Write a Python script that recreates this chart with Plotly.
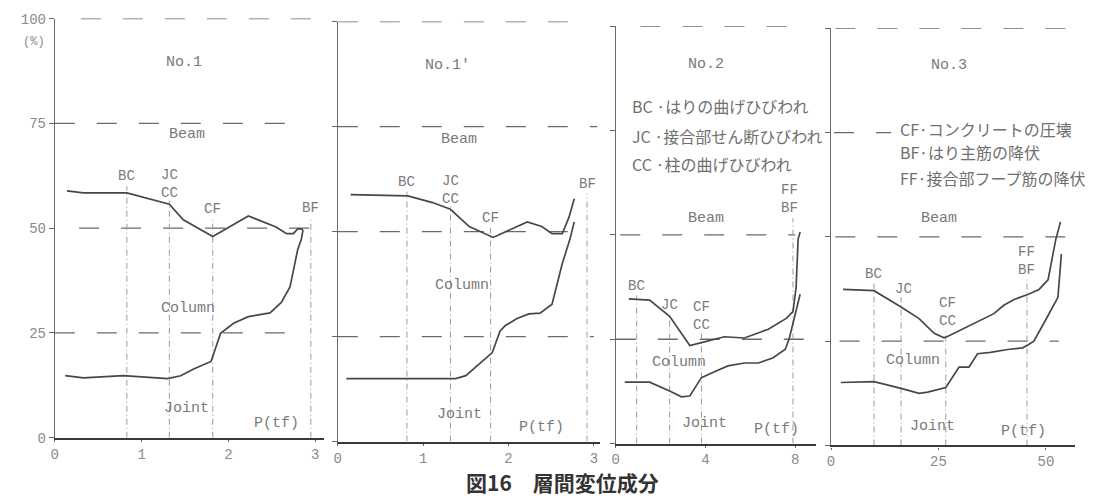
import plotly.graph_objects as go

# ---- data: interstory drift components (%) vs load P (tf) ----
p1_x_upper = [0.14, 0.33, 0.83, 1.32, 1.48, 1.82, 2.23, 2.55, 2.67, 2.75, 2.80, 2.86]
p1_upper = [58.9, 58.4, 58.4, 55.7, 52.0, 48.0, 52.9, 50.3, 48.7, 48.7, 49.9, 49.7]
p1_x_lower = [0.12, 0.33, 0.79, 0.99, 1.30, 1.45, 1.60, 1.80, 1.91, 2.06, 2.23, 2.48, 2.61, 2.71, 2.80, 2.84, 2.86]
p1_lower = [14.8, 14.3, 14.8, 14.5, 14.1, 14.8, 16.4, 18.2, 24.9, 27.3, 28.9, 29.8, 32.3, 36.0, 45.0, 47.3, 49.6]

p2_x_upper = [0.15, 0.82, 1.11, 1.32, 1.54, 1.82, 2.22, 2.39, 2.51, 2.63, 2.71, 2.77]
p2_upper = [58.8, 58.5, 56.9, 55.3, 51.2, 48.6, 52.3, 51.2, 49.5, 49.5, 53.5, 57.8]
p2_x_lower = [0.10, 1.31, 1.38, 1.50, 1.61, 1.81, 1.90, 1.96, 2.10, 2.24, 2.37, 2.51, 2.63, 2.72, 2.77]
p2_lower = [15.0, 15.0, 15.0, 15.7, 17.7, 21.2, 26.3, 27.6, 29.3, 30.4, 30.6, 32.7, 42.4, 48.2, 52.3]

p3_x_upper = [0.58, 1.51, 2.40, 2.93, 3.30, 3.82, 4.84, 5.73, 6.80, 7.60, 7.90, 8.04, 8.13, 8.22]
p3_upper = [34.7, 34.4, 30.5, 26.5, 23.5, 24.2, 25.6, 25.3, 27.4, 30.0, 31.6, 37.4, 49.0, 50.7]
p3_x_lower = [0.40, 1.51, 2.40, 2.93, 3.30, 3.82, 4.40, 5.00, 5.73, 6.35, 7.00, 7.56, 7.73, 7.96, 8.22]
p3_lower = [14.7, 14.7, 12.6, 11.2, 11.4, 15.8, 17.2, 18.6, 19.3, 19.3, 20.5, 22.6, 25.1, 29.8, 35.8]

p4_x_upper = [2.8, 10.0, 16.3, 20.5, 24.0, 26.3, 27.2, 32.6, 37.9, 40.2, 42.6, 45.8, 48.4, 50.5, 52.3, 53.4]
p4_upper = [37.4, 37.1, 33.2, 30.4, 26.9, 25.8, 26.2, 29.0, 31.6, 33.6, 35.0, 36.2, 37.4, 39.7, 49.4, 53.6]
p4_x_lower = [2.3, 10.0, 16.3, 20.5, 22.5, 26.7, 29.8, 32.1, 34.1, 37.1, 41.1, 44.6, 45.8, 47.2, 50.0, 52.8, 53.6]
p4_lower = [15.1, 15.3, 13.7, 12.5, 12.8, 13.9, 18.8, 18.8, 22.0, 22.3, 23.0, 23.4, 24.1, 25.0, 30.2, 35.5, 45.9]

# event loads (vertical marker lines) and the height each marker line reaches
p1_events = [0.83, 1.32, 1.82, 2.95]
p1_event_tops = [60.0, 56.5, 52.0, 52.0]
p2_events = [0.81, 1.32, 1.79, 2.92]
p2_event_tops = [59.5, 56.0, 51.0, 59.0]
p3_events = [0.93, 2.40, 3.82, 7.90]
p3_event_tops = [35.5, 31.0, 26.5, 54.0]
p4_events = [10.0, 16.3, 26.7, 45.6]
p4_event_tops = [39.0, 35.5, 28.0, 40.0]

# event labels: (text, x, y at label centre); stacked names share one label
p1_event_labels = [("BC", 0.83, 62.4), ("JC<br>CC", 1.32, 60.6), ("CF", 1.82, 54.5), ("BF", 2.95, 54.7)]
p2_event_labels = [("BC", 0.81, 61.8), ("JC<br>CC", 1.32, 60.0), ("CF", 1.79, 53.2), ("BF", 2.92, 61.3)]
p3_event_labels = [("BC", 0.93, 37.7), ("JC", 2.40, 33.3), ("CF<br>CC", 3.82, 30.5), ("FF<br>BF", 7.73, 58.7)]
p4_event_labels = [("BC", 10.0, 41.1), ("JC", 16.9, 37.6), ("CF<br>CC", 27.1, 32.0), ("FF<br>BF", 45.5, 44.3)]

# region / title labels: (text, x, y)
p1_labels = [("No.1", 1.49, 89.6), ("Beam", 1.52, 72.3), ("Column", 1.53, 30.9), ("Joint", 1.52, 6.9)]
p2_labels = [("No.1'", 1.28, 89.6), ("Beam", 1.42, 71.9), ("Column", 1.46, 37.1), ("Joint", 1.42, 6.5)]
p3_labels = [("No.2", 4.04, 90.9), ("Beam", 4.04, 54.0), ("Column", 2.84, 19.5), ("Joint", 3.96, 4.7)]
p4_labels = [("No.3", 27.4, 91.2), ("Beam", 25.1, 54.3), ("Column", 19.0, 20.4), ("Joint", 23.7, 4.6)]

p_axis_label = [2.55, 2.39, 7.16, 44.8]

legend_cracks = ["BC ·はりの曲げひびわれ", "JC ·接合部せん断ひびわれ", "CC ·柱の曲げひびわれ"]
legend_cracks_y = [80.9, 73.7, 67.0]
legend_yield = ["CF·コンクリートの圧壊", "BF·はり主筋の降伏", "FF·接合部フープ筋の降伏"]
legend_yield_y = [75.9, 70.3, 64.0]

# dashed reference levels (%) and the x-extent drawn in each panel
levels = [100, 75, 50, 25]
p1_level_extent = [(0.30, 3.05), (0.0, 2.78), (0.28, 3.0), (0.0, 2.75)]
p2_level_extent = [(0.0, 2.80), (0.0, 3.04), (0.0, 2.85), (0.0, 3.0)]
p3_level_extent = [(1.1, 7.8), None, (0.2, 8.0), (0.0, 8.7)]
p4_level_extent = [(1.0, 56.5), (0.7, 14.0), (1.0, 56.5), (2.0, 53.0)]

p1_ticks = [0, 1, 2, 3]
p2_ticks = [0, 1, 2, 3]
p3_ticks = [0, 4, 8]
p4_ticks = [0, 25, 50]
y_ticks = [0, 25, 50, 75, 100]

caption = "図16　層間変位成分"

# ---- styling ----
W, H = 1110, 499
MONO = "Liberation Mono, Courier New, monospace"
CJK = "Noto Sans CJK JP"
TEXT_C = "#7a7a7a"
CURVE_C = "#474747"
DASH_C = "#6a6a6a"
EVENT_C = "#9a9a9a"

# pixel geometry of each panel: (x of origin, x of axis end, x max value, y pixel of 0, y pixel of 100)
panels = [
    dict(px0=51, px1=321, xmax=3.10, py0=445, py100=12),
    dict(px0=335, px1=598, xmax=3.07, py0=449, py100=15),
    dict(px0=614, px1=815, xmax=8.93, py0=451, py100=20),
    dict(px0=830, px1=1075, xmax=56.8, py0=453, py100=22),
]

data = [
    (p1_x_upper, p1_upper, p1_x_lower, p1_lower, p1_events, p1_event_tops, p1_event_labels, p1_labels, p1_level_extent, p1_ticks),
    (p2_x_upper, p2_upper, p2_x_lower, p2_lower, p2_events, p2_event_tops, p2_event_labels, p2_labels, p2_level_extent, p2_ticks),
    (p3_x_upper, p3_upper, p3_x_lower, p3_lower, p3_events, p3_event_tops, p3_event_labels, p3_labels, p3_level_extent, p3_ticks),
    (p4_x_upper, p4_upper, p4_x_lower, p4_lower, p4_events, p4_event_tops, p4_event_labels, p4_labels, p4_level_extent, p4_ticks),
]

fig = go.Figure()
annotations = []
layout = dict(
    width=W, height=H,
    margin=dict(l=0, r=0, t=0, b=0),
    paper_bgcolor="white", plot_bgcolor="white",
    showlegend=False,
)

for i, (geom, d) in enumerate(zip(panels, data), start=1):
    xu, yu, xl, yl, ev, evt, evl, labs, lext, xt = d
    xa = "x" if i == 1 else f"x{i}"
    ya = "y" if i == 1 else f"y{i}"
    xkey = "xaxis" if i == 1 else f"xaxis{i}"
    ykey = "yaxis" if i == 1 else f"yaxis{i}"

    layout[xkey] = dict(
        domain=[geom["px0"] / W, geom["px1"] / W], range=[0, geom["xmax"]],
        anchor=ya, showline=True, linecolor="#3a3a3a", linewidth=2.2,
        ticks="outside", ticklen=2, tickwidth=1, tickcolor="#666",
        tickvals=xt, ticktext=[str(t) for t in xt],
        tickfont=dict(family=MONO, size=14, color="#8a8a8a"),
        showgrid=False, zeroline=False, fixedrange=True,
    )
    layout[ykey] = dict(
        domain=[(H - geom["py0"]) / H, (H - geom["py100"]) / H], range=[0, 100],
        anchor=xa, showline=True, linecolor="#6a6a6a", linewidth=1.1,
        ticks="outside", ticklen=5, tickwidth=1, tickcolor="#666",
        tickvals=y_ticks, showticklabels=(i == 1),
        tickfont=dict(family=MONO, size=14, color="#8a8a8a"),
        showgrid=False, zeroline=False, fixedrange=True,
    )

    # dashed reference levels
    for lv, ext in zip(levels, lext):
        if ext is None:
            continue
        fig.add_trace(go.Scatter(
            x=[ext[0], ext[1]], y=[lv, lv], mode="lines", xaxis=xa, yaxis=ya,
            line=dict(color=DASH_C, width=1.3, dash="20px,22px"), hoverinfo="skip"))

    # event marker lines
    for ex, et in zip(ev, evt):
        fig.add_trace(go.Scatter(
            x=[ex, ex], y=[0, et], mode="lines", xaxis=xa, yaxis=ya,
            line=dict(color=EVENT_C, width=1, dash="6px,3px,1px,3px"), hoverinfo="skip"))

    # boundary curves
    fig.add_trace(go.Scatter(x=xu, y=yu, mode="lines", xaxis=xa, yaxis=ya,
                             line=dict(color=CURVE_C, width=1.7)))
    fig.add_trace(go.Scatter(x=xl, y=yl, mode="lines", xaxis=xa, yaxis=ya,
                             line=dict(color=CURVE_C, width=1.7)))

    for txt, tx, ty in evl:
        annotations.append(dict(
            text=txt, x=tx, y=ty, xref=xa, yref=ya, showarrow=False,
            font=dict(family=MONO, size=14, color=TEXT_C),
            xanchor="center", yanchor="middle"))
    for txt, tx, ty in labs:
        annotations.append(dict(
            text=txt, x=tx, y=ty, xref=xa, yref=ya, showarrow=False,
            font=dict(family=MONO, size=15, color=TEXT_C),
            xanchor="center", yanchor="middle"))

    annotations.append(dict(
        text="P(tf)", x=p_axis_label[i - 1], y=0.8, xref=xa, yref=ya, showarrow=False,
        font=dict(family=MONO, size=15, color=TEXT_C), xanchor="center", yanchor="bottom"))

# crack / yield legends
for txt, ty in zip(legend_cracks, legend_cracks_y):
    annotations.append(dict(text=txt, x=0.62, y=ty, xref="x3", yref="y3", showarrow=False,
                            font=dict(family=CJK, size=16, color="#6f6f6f"),
                            xanchor="left", yanchor="middle"))
for txt, ty in zip(legend_yield, legend_yield_y):
    annotations.append(dict(text=txt, x=15.5, y=ty, xref="x4", yref="y4", showarrow=False,
                            font=dict(family=CJK, size=16, color="#6f6f6f"),
                            xanchor="left", yanchor="middle"))

# unit label under the top tick
annotations.append(dict(text="(%)", x=30 / W, y=(H - 36) / H, xref="paper", yref="paper",
                        showarrow=False, font=dict(family=MONO, size=12, color="#8a8a8a"),
                        xanchor="center", yanchor="middle"))

# figure caption
annotations.append(dict(text="<b>" + caption + "</b>", x=561 / W, y=(H - 491) / H,
                        xref="paper", yref="paper", showarrow=False,
                        font=dict(family=CJK, size=21, color="#333333"),
                        xanchor="center", yanchor="middle"))

layout["annotations"] = annotations
fig.update_layout(**layout)
fig.write_html("out.html")
